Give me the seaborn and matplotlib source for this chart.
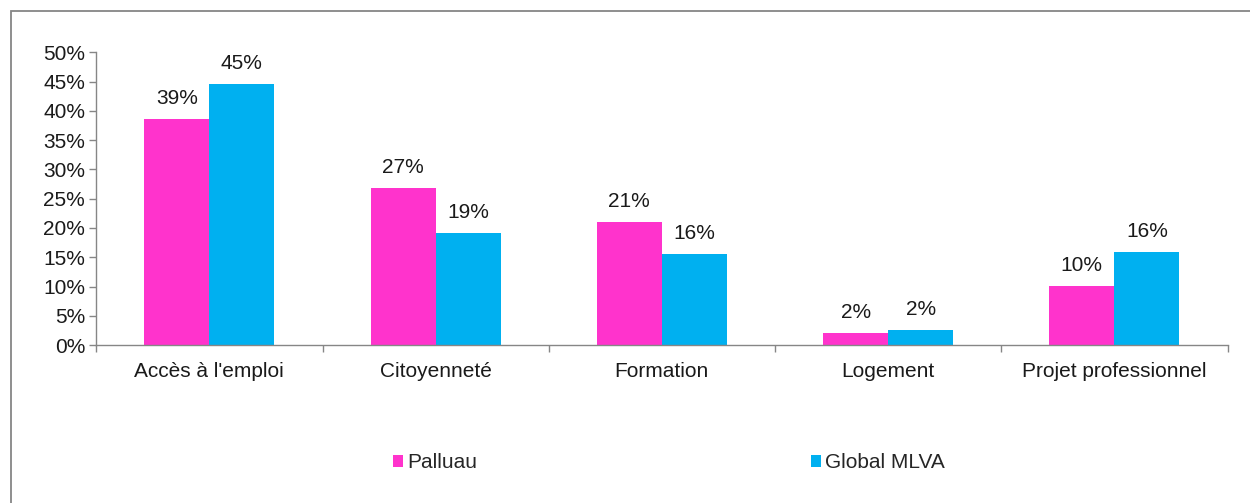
import pandas as pd
import numpy as np
import matplotlib
matplotlib.use('Agg')
import matplotlib.pyplot as plt
import seaborn as sns
from matplotlib.patches import Rectangle
from matplotlib.ticker import PercentFormatter, FixedLocator

# données
categories = ["Accès à l'emploi", "Citoyenneté", "Formation", "Logement", "Projet professionnel"]
palluau = [38.6, 26.8, 21.0, 2.0, 10.1]
global_mlva = [44.6, 19.1, 15.5, 2.5, 15.9]
series = ["Palluau", "Global MLVA"]
colors = ["#FF33CC", "#00B0F0"]

df = pd.DataFrame({
    'Catégorie': categories * 2,
    'Série': [series[0]] * 5 + [series[1]] * 5,
    'Valeur': palluau + global_mlva,
})

sns.set_theme(style='white')
plt.rcParams['font.family'] = ['Liberation Sans', 'DejaVu Sans']
fs = 15

fig = plt.figure(figsize=(12.5, 5.03), dpi=100)
ax = fig.add_axes([0.077, 0.314, 0.905, 0.582])

sns.barplot(data=df, x='Catégorie', y='Valeur', hue='Série', palette=colors,
            width=0.575, saturation=1, linewidth=0, ax=ax, legend=True)

# étiquettes de valeurs
for cont in ax.containers:
    labels = [f"{v:.0f}%" for v in cont.datavalues]
    ax.bar_label(cont, labels=labels, padding=8, fontsize=fs, color='#1a1a1a')

ax.set_ylim(0, 50)
ax.set_xlim(-0.5, 4.5)
ax.set_yticks(np.arange(0, 51, 5))
ax.yaxis.set_major_formatter(PercentFormatter(decimals=0))
ax.set_xlabel('')
ax.set_ylabel('')
ax.tick_params(axis='both', labelsize=fs, colors='#1a1a1a')
ax.tick_params(axis='y', which='major', direction='out', length=5, width=1, color='#868686', left=True, pad=3)
ax.tick_params(axis='x', which='major', length=0, pad=12)
ax.xaxis.set_minor_locator(FixedLocator(np.arange(-0.5, 5, 1)))
ax.tick_params(axis='x', which='minor', direction='out', length=5, width=1, color='#868686', bottom=True)

for side in ['top', 'right']:
    ax.spines[side].set_visible(False)
for side in ['left', 'bottom']:
    ax.spines[side].set_color('#868686')
    ax.spines[side].set_linewidth(1)

handles, labs = ax.get_legend_handles_labels()
ax.legend_.remove()
fig.legend(handles, labs, loc='center', bbox_to_anchor=(0.535, 0.08), ncol=2,
           frameon=False, fontsize=fs, handlelength=0.5, handleheight=0.5,
           handletextpad=0.2, columnspacing=16)

# cadre de la zone du graphique (coupé à droite et en bas)
fig.patches.append(Rectangle((0.009, -0.1), 1.1, 1.078, transform=fig.transFigure,
                             fill=False, edgecolor='#868686', linewidth=1.3))

fig.savefig('out.png', dpi=100)
